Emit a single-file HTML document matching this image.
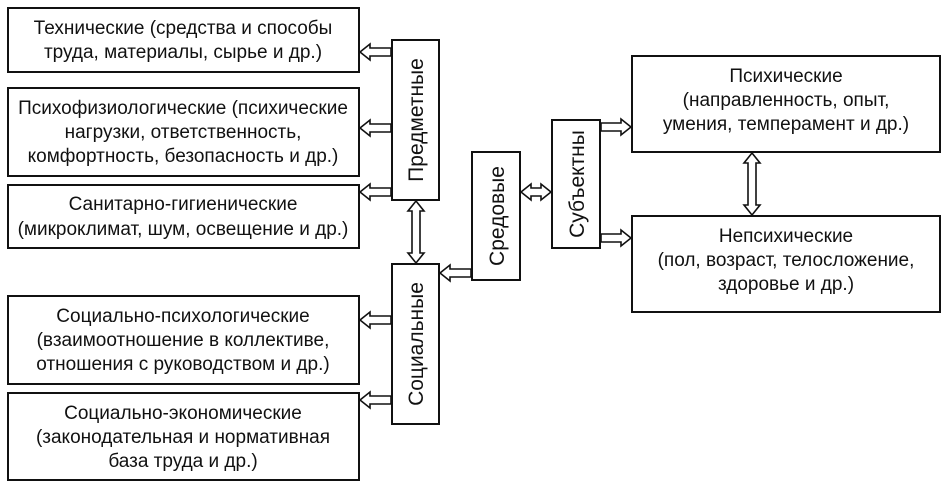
<!DOCTYPE html>
<html><head><meta charset="utf-8"><style>
body{margin:0;background:#fff;width:945px;height:490px;overflow:hidden}
svg text{font-family:"Liberation Sans",sans-serif;font-size:19px;fill:#111}
svg text.v{font-size:21px}
</style></head><body>
<svg id="s" width="945" height="490" xmlns="http://www.w3.org/2000/svg">
<g fill="#fff" stroke="#111" stroke-width="2">
<rect x="8" y="8" width="351" height="64"/>
<rect x="8" y="88" width="351" height="88"/>
<rect x="8" y="185" width="351" height="63"/>
<rect x="8" y="296" width="351" height="88"/>
<rect x="8" y="393" width="351" height="87"/>
<rect x="392" y="40" width="47" height="160"/>
<rect x="392" y="264" width="47" height="160"/>
<rect x="472" y="152" width="48" height="128"/>
<rect x="552" y="120" width="48" height="128"/>
<rect x="632" y="56" width="308" height="96"/>
<rect x="632" y="216" width="308" height="96"/>
</g>
<g text-anchor="middle">
<text x="183" y="34">Технические  (средства и способы</text>
<text x="183" y="58">труда, материалы, сырье и др.)</text>
<text x="183" y="114">Психофизиологические (психические</text>
<text x="183" y="138">нагрузки, ответственность,</text>
<text x="183" y="162">комфортность, безопасность и др.)</text>
<text x="183" y="210">Санитарно-гигиенические</text>
<text x="183" y="235">(микроклимат, шум, освещение и др.)</text>
<text x="183" y="322">Социально-психологические</text>
<text x="183" y="346">(взаимоотношение в коллективе,</text>
<text x="183" y="370">отношения с руководством и др.)</text>
<text x="183" y="419">Социально-экономические</text>
<text x="183" y="443">(законодательная и нормативная</text>
<text x="183" y="467">база труда и др.)</text>
<text x="786" y="82">Психические</text>
<text x="786" y="106">(направленность, опыт,</text>
<text x="786" y="130">умения, темперамент и др.)</text>
<text x="786" y="242">Непсихические</text>
<text x="786" y="266">(пол, возраст, телосложение,</text>
<text x="786" y="290">здоровье и др.)</text>
<text class="v" transform="translate(423,120) rotate(-90)">Предметные</text>
<text class="v" transform="translate(423,344) rotate(-90)">Социальные</text>
<text class="v" transform="translate(504,216) rotate(-90)">Средовые</text>
<text class="v" transform="translate(584,184) rotate(-90)">Субъектны</text>
</g>
<g id="arr" fill="#fff" stroke="#111" stroke-width="1.6"></g>
</svg>
<script>
var g=document.getElementById('arr'),s=4,h=8,L=10;
function P(pts){var p=document.createElementNS('http://www.w3.org/2000/svg','polygon');p.setAttribute('points',pts.map(function(a){return a.join(',')}).join(' '));g.appendChild(p);}
function H(x1,x2,y){var d=x2>x1?1:-1,b=x2-d*L;P([[x1,y-s],[b,y-s],[b,y-h],[x2,y],[b,y+h],[b,y+s],[x1,y+s]]);}
function HD(x1,x2,y){var a=x1+L,b=x2-L;P([[x1,y],[a,y-h],[a,y-s],[b,y-s],[b,y-h],[x2,y],[b,y+h],[b,y+s],[a,y+s],[a,y+h]]);}
function VD(x,y1,y2){var a=y1+L,b=y2-L;P([[x,y1],[x+h,a],[x+s,a],[x+s,b],[x+h,b],[x,y2],[x-h,b],[x-s,b],[x-s,a],[x-h,a]]);}
H(391,360,52);H(391,360,128);H(391,360,192);
H(391,360,320);H(391,360,400);
H(471,440,273);
HD(521,551,192);
H(601,631,127);H(601,631,238);
VD(416,201,263);
VD(752,153,215);
</script>
</body></html>
